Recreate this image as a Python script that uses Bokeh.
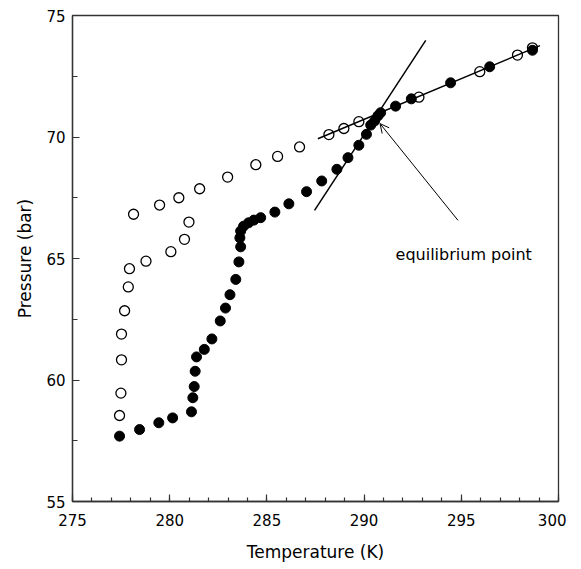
from bokeh.plotting import figure
from bokeh.models import Range1d, Arrow, OpenHead, SingleIntervalTicker, ColumnDataSource
from bokeh.core.properties import value
from bokeh.embed import file_html
from bokeh.resources import INLINE

# Open circles (series 1)
open_T = [277.42, 277.49, 277.52, 277.52, 277.68, 277.87, 277.93,
          278.78, 280.06, 280.76, 280.99,
          278.14, 279.48, 280.47, 281.54, 282.98, 284.43, 285.55, 286.68,
          288.19, 288.96, 289.73, 292.82, 295.95, 297.89, 298.66]
open_P = [58.54, 59.46, 60.83, 61.89, 62.85, 63.83, 64.58,
          64.89, 65.28, 65.79, 66.50,
          66.82, 67.20, 67.50, 67.87, 68.35, 68.86, 69.20, 69.59,
          70.10, 70.35, 70.63, 71.64, 72.69, 73.37, 73.67]

# Filled circles (series 2)
fill_T = [277.42, 278.45, 279.44, 280.15, 281.12, 281.19, 281.26, 281.31, 281.38,
          281.78, 282.17, 282.60, 282.87, 283.10, 283.40, 283.56, 283.65, 283.61,
          283.65, 283.80, 284.06, 284.33, 284.68, 285.41, 286.13, 287.04, 287.82,
          288.60, 289.17, 289.73, 290.12, 290.34, 290.54, 290.71, 290.85, 291.62,
          292.43, 294.45, 296.46, 298.66]
fill_P = [57.69, 57.96, 58.24, 58.44, 58.69, 59.27, 59.73, 60.36, 60.95,
          61.26, 61.69, 62.43, 62.96, 63.51, 64.14, 64.86, 65.48, 65.85,
          66.13, 66.33, 66.47, 66.58, 66.68, 66.91, 67.25, 67.75, 68.19,
          68.67, 69.15, 69.66, 70.11, 70.49, 70.66, 70.87, 71.00, 71.27,
          71.57, 72.23, 72.89, 73.57]

# Fitted lines
steep_T = [287.45, 293.17]
steep_P = [66.98, 73.98]
shallow_T = [287.62, 299.05]
shallow_P = [69.93, 73.76]

# Annotation
arrow_tail = (294.83, 66.57)
arrow_head = (290.82, 70.55)
label_xy = (291.62, 65.18)
label_text = "equilibrium point"

x_title = "Temperature (K)"
y_title = "Pressure (bar)"

FONT = "DejaVu Sans"

p = figure(frame_width=486, frame_height=486,
           x_range=Range1d(275, 300), y_range=Range1d(55, 75),
           output_backend="svg", toolbar_location=None,
           min_border_left=72, min_border_top=15, min_border_right=8, min_border_bottom=60,
           background_fill_color="white", border_fill_color="white")

p.xgrid.visible = False
p.ygrid.visible = False
p.outline_line_color = "#333333"
p.outline_line_width = 1.3

p.xaxis.ticker = SingleIntervalTicker(interval=5, num_minor_ticks=5)
p.yaxis.ticker = SingleIntervalTicker(interval=5, num_minor_ticks=2)

for ax in (p.xaxis[0], p.yaxis[0]):
    ax.axis_line_color = "#333333"
    ax.axis_line_width = 1.3
    ax.major_tick_line_color = "#333333"
    ax.minor_tick_line_color = "#333333"
    ax.major_tick_line_width = 1.2
    ax.minor_tick_line_width = 1.2
    ax.major_tick_out = 0
    ax.minor_tick_out = 0
    ax.major_tick_in = 7
    ax.minor_tick_in = 4
    ax.major_label_text_font = FONT
    ax.major_label_text_font_size = "15px"
    ax.major_label_text_color = "black"
    ax.axis_label_text_font = FONT
    ax.axis_label_text_font_size = "17px"
    ax.axis_label_text_font_style = "normal"
    ax.axis_label_text_color = "black"

p.yaxis[0].minor_tick_in = 5
p.xaxis.axis_label = x_title
p.yaxis.axis_label = y_title
p.xaxis.major_label_standoff = 12
p.yaxis.major_label_standoff = 7
p.xaxis.axis_label_standoff = 13
p.yaxis.axis_label_standoff = 8

p.line(steep_T, steep_P, line_color="black", line_width=1.5)
p.line(shallow_T, shallow_P, line_color="black", line_width=1.5)

p.scatter(open_T, open_P, marker="circle", size=10, fill_alpha=0,
          line_color="black", line_width=1.3)
p.scatter(fill_T, fill_P, marker="circle", size=10, fill_color="black",
          line_color="black", line_width=1)

p.add_layout(Arrow(end=OpenHead(size=9, line_width=1, line_color="black"),
                   x_start=arrow_tail[0], y_start=arrow_tail[1],
                   x_end=arrow_head[0], y_end=arrow_head[1],
                   line_width=1, line_color="black"))

src = ColumnDataSource(dict(x=[label_xy[0]], y=[label_xy[1]], t=[label_text]))
p.text(x="x", y="y", text="t", source=src, text_font=value(FONT),
       text_font_size="16px", text_baseline="alphabetic", text_align="left",
       text_color="black")

open("out.html", "w").write(file_html(p, INLINE))
